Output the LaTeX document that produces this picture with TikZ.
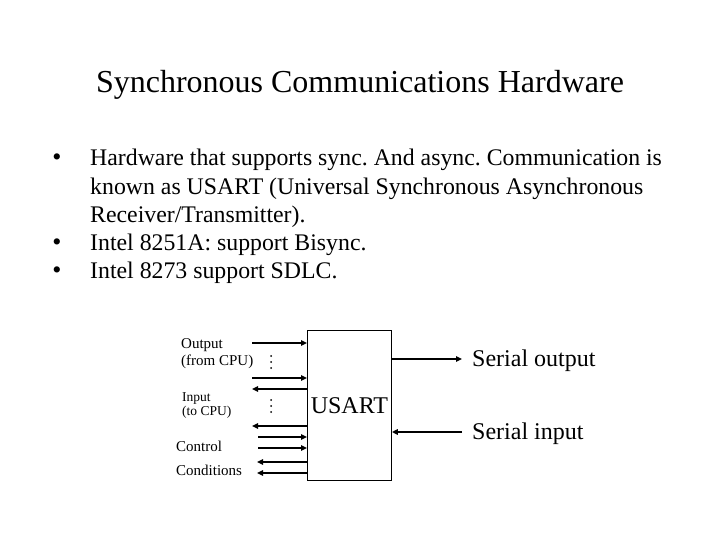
\documentclass[tikz,border=0pt]{standalone}
\usepackage{fontspec}
\setmainfont{Liberation Serif}
\usetikzlibrary{arrows.meta,positioning}
\frenchspacing

\begin{document}
\begin{tikzpicture}[x=1bp,y=-1bp,
  headline/.style={font=\fontsize{32bp}{36bp}\selectfont,anchor=base,inner sep=0pt},
  item/.style={font=\fontsize{23.8bp}{28.5bp}\selectfont,anchor=base west,align=left,inner sep=0pt},
  dot/.style={font=\fontsize{26bp}{28.5bp}\selectfont,anchor=base,inner sep=0pt},
  chip/.style={draw,line width=1bp,minimum width=83bp,minimum height=150bp,anchor=north west,font=\fontsize{24bp}{28bp}\selectfont},
  pin/.style={font=\fontsize{15bp}{17bp}\selectfont,anchor=base west,align=left,inner sep=0pt},
  smallpin/.style={font=\fontsize{13.5bp}{14bp}\selectfont,anchor=base west,align=left,inner sep=0pt},
  serial/.style={font=\fontsize{24bp}{28bp}\selectfont,anchor=base west,inner sep=0pt},
  sig/.style={-{Triangle[length=6bp,width=5.5bp]},line width=2.6bp}
]
\useasboundingbox (0,0) rectangle (720,540);
\node[headline] (title) at (360,93) {Synchronous Communications Hardware};
% bullet list (base = last line)
\node[item] (b1) at (90,223) {Hardware that supports sync. And async. Communication is\\known as USART (Universal Synchronous Asynchronous\\Receiver/Transmitter).};
\node[item] (b2) at (90,251) {Intel 8251A: support Bisync.};
\node[item] (b3) at (90,279) {Intel 8273 support SDLC.};
\node[dot] (d1) at (57,166) {\textbullet};
\node[dot] (d2) at (57,251) {\textbullet};
\node[dot] (d3) at (57,279) {\textbullet};
% the chip
\node[chip] (usart) at (307,330) {USART};
% left side
\node[pin] (outlbl) at (181,365) {Output\\(from CPU)};
\node[smallpin] (inlbl) at (182,415.5) {Input\\(to CPU)};
\node[pin] (ctl) at (176,451) {Control};
\node[pin] (cond) at (176,475) {Conditions};
\coordinate (o1) at (252,343);
\coordinate (o2) at (252,378);
\coordinate (i1) at (252,389);
\coordinate (i2) at (252,426);
\coordinate (c1) at (258,437);
\coordinate (c2) at (258,448);
\coordinate (k1) at (257,462);
\coordinate (k2) at (257,473);
\foreach \p in {o1,o2,c1,c2} \draw[sig] (\p) -- (\p -| usart.west);
\foreach \p in {i1,i2,k1,k2} \draw[sig] (\p -| usart.west) -- (\p);
\foreach \y in {356,362,368,400,406,412} \fill (271,\y) circle (1bp);
% right side
\node[serial] (sout) at (472,366) {Serial output};
\node[serial] (sin) at (472,439) {Serial input};
\draw[sig] (usart.east |- 0,359) -- (462,359);
\draw[sig] (462,432) -- (usart.east |- 0,432);
\end{tikzpicture}
\end{document}
